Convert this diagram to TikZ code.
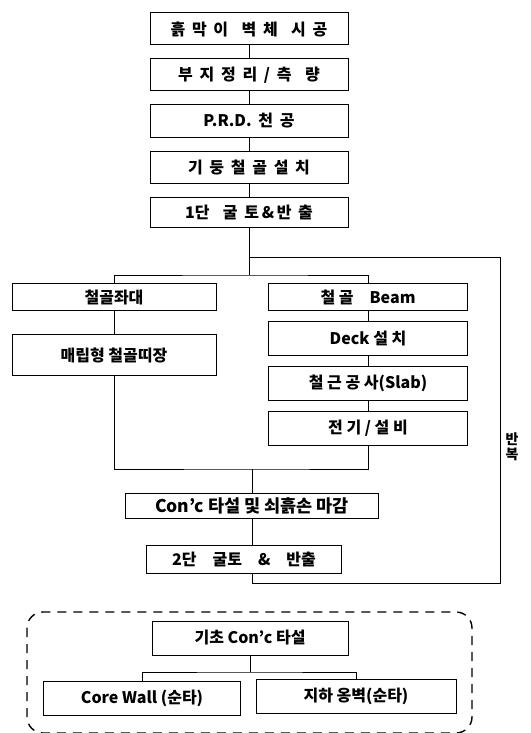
\documentclass[tikz,border=0pt]{standalone}
\usepackage{fontspec}
\setmainfont{Noto Sans CJK KR}[BoldFont={Noto Sans CJK KR Black}]
\usetikzlibrary{chains,positioning}
\newcommand\gp{\hspace{0.42em}}

\begin{document}
\begin{tikzpicture}[x=1pt,y=1pt]
\tikzset{every node/.style={draw,line width=1pt,inner sep=2pt,
font=\fontsize{16}{18}\selectfont\bfseries},
topbox/.style={on chain,minimum width=198pt,minimum height=32pt,
font=\fontsize{16}{18}\selectfont\bfseries},
leftbox/.style={on chain,minimum width=204pt,minimum height=27pt},
rightbox/.style={on chain,minimum width=199pt,minimum height=34pt},
link/.style={line width=0.8pt}}
\useasboundingbox (0,0) rectangle (530,-733);

\begin{scope}[start chain=going below,node distance=13pt]
\node[topbox] at (249,-29) (retain-wall) {흙\gp 막\gp 이\gp\gp 벽\gp 체\gp\gp 시\gp 공};
\node[topbox] (site-survey) {부\gp 지\gp 정\gp 리\gp /\gp 측\gp\gp 량};
\node[topbox] (prd-drill) {P.R.D.\gp 천\gp 공};
\node[topbox] (column-steel) {기\gp 둥\gp 철\gp 골\gp 설\gp 치};
\node[topbox,minimum height=30pt] (first-cut) {1단\gp\gp 굴\gp 토\,\&\,반\gp 출};
\end{scope}

\begin{scope}[start chain=going below,node distance=23pt]
\node[leftbox] at (114,-297) (girder-seat) {철골좌대};
\node[leftbox,minimum height=41pt] (embedded-wale) {매립형 철골띠장};
\end{scope}

\begin{scope}[start chain=going below,node distance=10pt]
\node[rightbox,minimum height=27pt] at (368,-297) (steel-beam) {철 골\quad Beam};
\node[rightbox] (deck-plate) {Deck 설 치};
\node[rightbox] (slab-rebar) {철 근 공 사(Slab)};
\node[rightbox] (elec-mech) {전 기 / 설 비};
\end{scope}

\node[minimum width=253pt,minimum height=25pt,font=\fontsize{17.5}{19}\selectfont\bfseries]
at (252,-506) (slab-concrete) {Con’c 타설 및 쇠흙손 마감};
\node[minimum width=195pt,minimum height=28pt] at (244,-559) (second-cut)
{2단\quad 굴토\quad \&\quad 반출};
\node[draw=none,align=center,font=\fontsize{14}{15}\selectfont\bfseries]
at (512,-447) (repeat-label) {반\\복};

% 기초
\node[minimum width=196pt,minimum height=34pt] at (250,-638) (mat-footing)
{기초 Con’c 타설};
\node[minimum width=197pt,minimum height=34pt] at (142,-698) (core-wall)
{Core Wall (순타)};
\node[minimum width=200pt,minimum height=34pt] at (356,-696) (basement-wall)
{지하 옹벽(순타)};

\coordinate (loop-in) at (249,-257);
\coordinate (split) at (249,-275);
\coordinate (merge) at (252,-469);
\coordinate (loop-corner) at (500,-583);
\coordinate (branch) at (250,-672);

\path[draw,link]
(retain-wall) edge (site-survey)
(site-survey) edge (prd-drill)
(prd-drill) edge (column-steel)
(column-steel) edge (first-cut)
(girder-seat) edge (embedded-wale)
(steel-beam) edge (deck-plate)
(deck-plate) edge (slab-rebar)
(slab-rebar) edge (elec-mech);

\draw[link] (first-cut) -- (split);
\draw[link] (girder-seat) |- (split) -| (steel-beam);
\draw[link] (embedded-wale) |- (merge) -| (elec-mech);
\draw[link] (merge) -- (slab-concrete);
\draw[link] (slab-concrete.south) -- (slab-concrete.south |- second-cut.north);
\draw[link] (second-cut.south -| merge) |- (loop-corner) |- (loop-in);

\draw[link] (mat-footing) -- (branch);
\draw[link] (core-wall) |- (branch) -| (basement-wall);
\draw[line width=1.4pt,rounded corners=16pt,dash pattern=on 9pt off 7pt]
(27,-612) rectangle (472,-733);
\end{tikzpicture}
\end{document}
